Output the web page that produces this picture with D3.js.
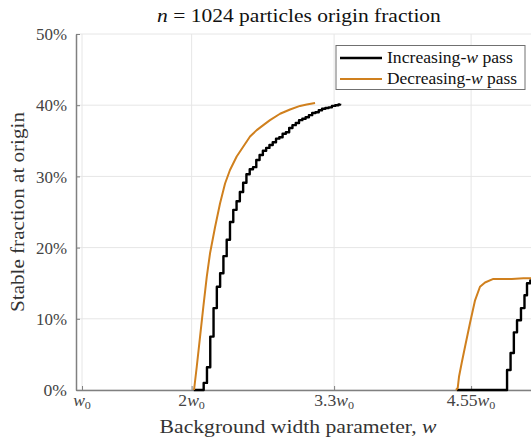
<!DOCTYPE html>
<html>
<head>
<meta charset="utf-8">
<script src="https://cdn.jsdelivr.net/npm/d3@7"></script>
</head>
<body style="margin:0; background:#fff">
<script>
// increasing-w pass, low band (staircase)
const incLowW = [2.02, 2.05, 2.08, 2.11, 2.14, 2.17, 2.20, 2.23, 2.26, 2.29, 2.32, 2.35, 2.38, 2.41, 2.44,
  2.47, 2.50, 2.53, 2.56, 2.59, 2.62, 2.65, 2.68, 2.71, 2.74, 2.77, 2.80, 2.83, 2.86, 2.89, 2.92,
  2.95, 2.98, 3.01, 3.04, 3.07, 3.10, 3.13, 3.16, 3.19, 3.22, 3.25, 3.28, 3.31, 3.34, 3.355];
const incLowP = [0, 0, 0, 1.0, 3.2, 7.5, 11.5, 14.5, 16.4, 18.8, 21.1, 23.6, 25.3, 26.5, 27.8,
  29.1, 30.3, 31.0, 31.3, 32.3, 33.0, 33.6, 34.0, 34.4, 34.8, 35.3, 35.5, 36.0, 36.2, 36.8, 37.2,
  37.5, 37.9, 38.1, 38.3, 38.6, 38.9, 39.0, 39.3, 39.5, 39.6, 39.7, 39.9, 40.0, 40.1, 40.2];

// increasing-w pass, high band
const incHighW = [4.42, 4.878, 4.910, 4.940, 4.969, 5.005, 5.037, 5.060, 5.090, 5.12];
const incHighP = [0, 2.8, 5.2, 8.1, 9.8, 11.5, 13.3, 15.0, 15.4, 15.6];

// decreasing-w pass
const decLowW = [2.022, 2.047, 2.077, 2.107, 2.138, 2.168, 2.214, 2.259, 2.305, 2.350, 2.411,
  2.472, 2.533, 2.594, 2.654, 2.715, 2.807, 2.898, 2.989, 3.050, 3.126];
const decLowP = [0, 3.3, 7.5, 11.7, 15.9, 19.2, 22.9, 26.2, 29.0, 30.9, 32.8,
  34.2, 35.6, 36.5, 37.2, 37.9, 38.8, 39.4, 39.9, 40.1, 40.3];

const decHighW = [4.412, 4.428, 4.440, 4.464, 4.495, 4.540, 4.586, 4.631, 4.677, 4.753, 4.921, 5.027, 5.12];
const decHighP = [0, 0.3, 1.9, 3.8, 6.1, 9.4, 12.6, 14.5, 15.1, 15.6, 15.6, 15.7, 15.7];

const xTicks = [1, 2, 3.3, 4.55];
const xTickNums = ['', '2', '3.3', '4.55'];
const yTicks = [0, 10, 20, 30, 40, 50];

const legendNames = ['Increasing-', 'Decreasing-'];
const colInc = '#000000';
const colDec = '#d0801e';

const FONT = '"Liberation Serif"';
const W = 531, H = 441;
const margin = { top: 34, left: 76, bottom: 51 };

const svg = d3.select('body').append('svg')
  .attr('width', W)
  .attr('height', H)
  .style('display', 'block');

const x = d3.scaleLinear()
  .domain([0.945, 5.15])
  .range([margin.left, margin.left + 4.205 * 109.6]);
const y = d3.scaleLinear()
  .domain([0, 50])
  .range([H - margin.bottom, margin.top]);

const plotRight = x.range()[1];

// widen a text horizontally to the width measured on the reference
// (Liberation Serif is narrower than the LaTeX font of the original)
function stretch(sel, w, pre) {
  sel.each(function () {
    const s = w / this.getComputedTextLength();
    d3.select(this).attr('transform', `${pre} scale(${s.toFixed(3)},1)`);
  });
}

// grid
svg.append('g').selectAll('line')
  .data(xTicks)
  .join('line')
  .attr('x1', d => x(d)).attr('x2', d => x(d))
  .attr('y1', y(0)).attr('y2', y(50))
  .attr('stroke', '#e6e6e6').attr('stroke-width', 1);
svg.append('g').selectAll('line')
  .data(yTicks)
  .join('line')
  .attr('x1', margin.left).attr('x2', plotRight)
  .attr('y1', d => y(d)).attr('y2', d => y(d))
  .attr('stroke', '#e6e6e6').attr('stroke-width', 1);

// axes (ticks pointing inward)
const yAxis = svg.append('g')
  .attr('transform', `translate(${margin.left},0)`)
  .call(d3.axisLeft(y).tickValues(yTicks).tickSizeInner(-4).tickSizeOuter(0).tickFormat(d => d + '%'));
yAxis.select('.domain').attr('stroke', '#808080').attr('stroke-width', 1.5);
yAxis.selectAll('.tick line').attr('stroke', '#808080');
yAxis.selectAll('.tick text')
  .attr('x', null)
  .attr('dy', '0.35em')
  .attr('fill', '#444')
  .style('font-family', FONT)
  .style('font-size', '16px');
stretch(yAxis.selectAll('.tick text'), 31, 'translate(-9,0)');
yAxis.selectAll('.tick').filter(d => d === 0).select('text')
  .attr('transform', 'translate(-9,0) scale(1.1,1)');

const xAxis = svg.append('g')
  .attr('transform', `translate(0,${y(0)})`)
  .call(d3.axisBottom(x).tickValues(xTicks).tickSizeInner(-4).tickSizeOuter(0).tickFormat(''));
xAxis.select('.domain').attr('stroke', '#808080').attr('stroke-width', 1.5);
xAxis.selectAll('.tick line').attr('stroke', '#808080');

// x tick labels like "2w0"
const xl = svg.append('g').selectAll('text')
  .data(xTicks)
  .join('text')
  .attr('transform', d => `translate(${x(d)},406) scale(1.1,1)`)
  .attr('text-anchor', 'middle')
  .attr('fill', '#444')
  .style('font-family', FONT)
  .style('font-size', '16px');
xl.append('tspan').text((d, i) => xTickNums[i]);
xl.append('tspan').style('font-style', 'italic').text('w');
xl.append('tspan').attr('dy', 3).style('font-size', '11px').text('0');

// lines
const line = d3.line().x(d => x(d[0])).y(d => y(d[1]));
const stepLine = d3.line().x(d => x(d[0])).y(d => y(d[1])).curve(d3.curveStepAfter);

svg.append('defs').append('clipPath').attr('id', 'clip')
  .append('rect')
  .attr('x', margin.left).attr('y', margin.top - 5)
  .attr('width', plotRight - margin.left).attr('height', y(0) - margin.top + 10);

const lines = svg.append('g').attr('clip-path', 'url(#clip)');
[[incLowW, incLowP], [incHighW, incHighP]].forEach(s => {
  lines.append('path')
    .datum(d3.zip(s[0], s[1]))
    .attr('d', stepLine)
    .attr('fill', 'none').attr('stroke', colInc).attr('stroke-width', 2.4)
    .attr('stroke-linejoin', 'round');
});
[[decLowW, decLowP], [decHighW, decHighP]].forEach(s => {
  lines.append('path')
    .datum(d3.zip(s[0], s[1]))
    .attr('d', line)
    .attr('fill', 'none').attr('stroke', colDec).attr('stroke-width', 2)
    .attr('stroke-linejoin', 'round');
});

// title
const title = svg.append('text')
  .attr('text-anchor', 'middle')
  .attr('fill', '#111')
  .style('font-family', FONT)
  .style('font-size', '18.5px');
title.append('tspan').style('font-style', 'italic').text('n');
title.append('tspan').text(' = 1024 particles origin fraction');
stretch(title, 284, 'translate(299,22)');

// axis labels
const xlab = svg.append('text')
  .attr('text-anchor', 'middle')
  .attr('fill', '#333')
  .style('font-family', FONT)
  .style('font-size', '18.5px');
xlab.append('tspan').text('Background width parameter, ');
xlab.append('tspan').style('font-style', 'italic').text('w');
stretch(xlab, 277, 'translate(298,433)');

const ylab = svg.append('text')
  .attr('text-anchor', 'middle')
  .attr('fill', '#333')
  .style('font-family', FONT)
  .style('font-size', '18.5px')
  .text('Stable fraction at origin');
stretch(ylab, 200, `translate(24,${(y(0) + y(50)) / 2}) rotate(-90)`);

// legend
const lg = svg.append('g');
lg.append('rect')
  .attr('x', 336).attr('y', 45.5)
  .attr('width', 189).attr('height', 44)
  .attr('fill', '#fff').attr('stroke', '#707070').attr('stroke-width', 1);
const rows = lg.selectAll('g')
  .data(legendNames)
  .join('g')
  .attr('transform', (d, i) => `translate(0,${58 + i * 21})`);
rows.append('line')
  .attr('x1', 340).attr('x2', 382)
  .attr('stroke', (d, i) => i === 0 ? colInc : colDec)
  .attr('stroke-width', (d, i) => i === 0 ? 2.4 : 2);
const lt = rows.append('text')
  .attr('fill', '#111')
  .style('font-family', FONT)
  .style('font-size', '16px');
lt.append('tspan').text(d => d);
lt.append('tspan').style('font-style', 'italic').text('w');
lt.append('tspan').text(' pass');
stretch(lt.filter((d, i) => i === 0), 126, 'translate(387,5)');
stretch(lt.filter((d, i) => i === 1), 130, 'translate(387,5)');
</script>
</body>
</html>
